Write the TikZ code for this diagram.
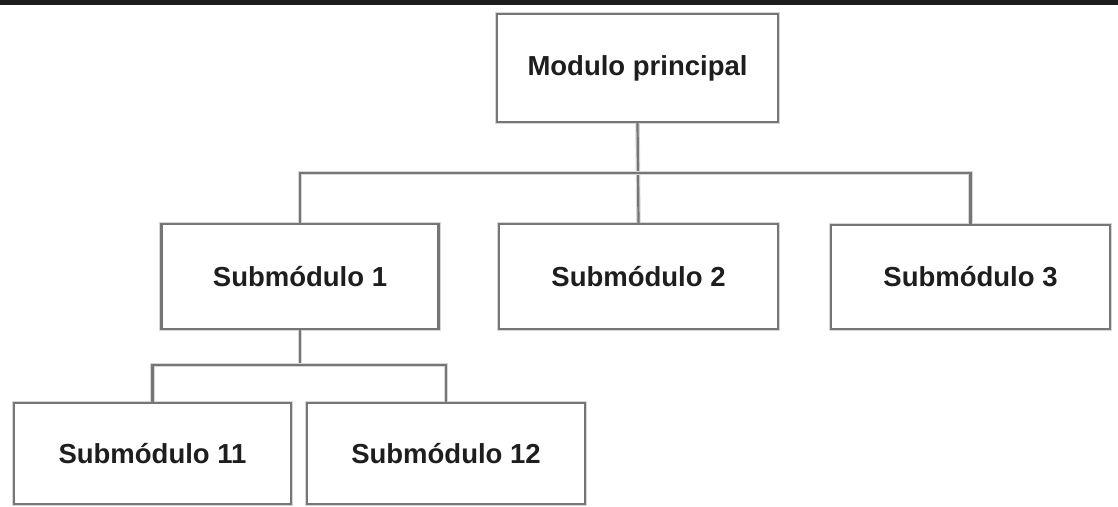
\documentclass[tikz,border=0pt]{standalone}
\usepackage{fontspec}
\setmainfont{Liberation Sans}
\definecolor{edge}{RGB}{118,118,118}
\definecolor{halo}{RGB}{215,215,215}
\definecolor{txt}{RGB}{30,30,30}
\definecolor{strip}{RGB}{30,30,30}
\begin{document}
\begin{tikzpicture}[x=1pt,y=-1pt,
  modbox/.style={draw=edge,line width=2.2pt,fill=white,rectangle,inner sep=0pt,
    preaction={draw=halo,line width=4.5pt},
    font=\fontsize{27.5}{32}\selectfont\bfseries,text=txt},
  link/.style={draw=edge,line width=2.2pt,preaction={draw=halo,line width=4.5pt}}]
\useasboundingbox (0,0) rectangle (1118,506);
\fill[strip] (0,0) rectangle (1118,5);
\node[modbox,minimum width=281pt,minimum height=108pt] (main) at (637.5,68) {Modulo principal};
\node[modbox,minimum width=277pt,minimum height=105pt] (s1) at (300,276.5) {Submódulo 1};
\node[modbox,minimum width=279pt,minimum height=105pt] (s2) at (638.5,276.5) {Submódulo 2};
\node[modbox,minimum width=279pt,minimum height=104pt] (s3) at (970.5,277) {Submódulo 3};
\node[modbox,minimum width=277pt,minimum height=101pt] (s11) at (152.5,453.5) {Submódulo 11};
\node[modbox,minimum width=278pt,minimum height=101pt] (s12) at (446,453.5) {Submódulo 12};
\coordinate (busA) at (639,173);
\coordinate (busB) at (300,365);
\path[link] (main.south) -- (s2.north);
\path[link] (s1.north) |- (busA) -| (s3.north);
\path[link] (s1.south) -- (busB);
\path[link] (s11.north) |- (busB) -| (s12.north);
\end{tikzpicture}
\end{document}
